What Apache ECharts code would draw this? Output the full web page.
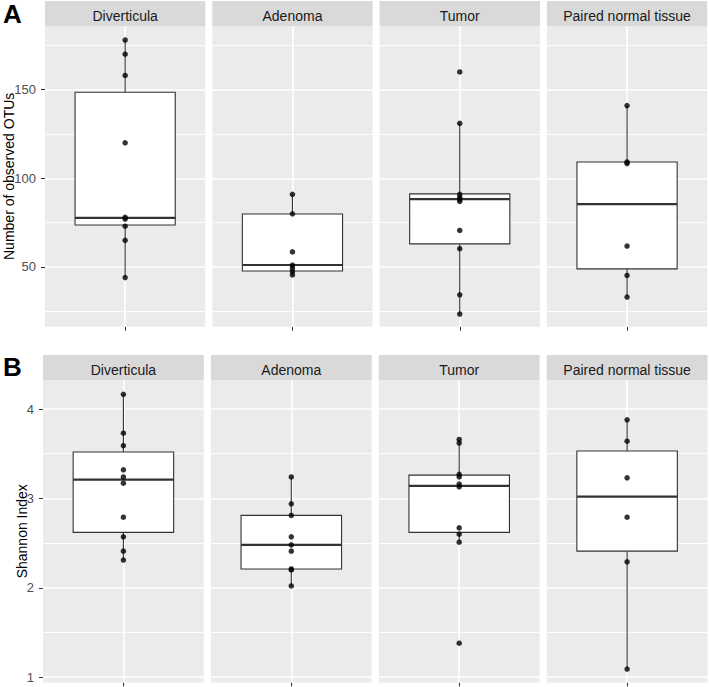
<!DOCTYPE html>
<html>
<head>
<meta charset="utf-8">
<script src="https://cdn.jsdelivr.net/npm/echarts@6/dist/echarts.min.js"></script>
<style>
  html, body { margin: 0; padding: 0; background: #fff; }
  #chart { width: 709px; height: 687px; }
</style>
</head>
<body>
<div id="chart"></div>
<script>
const FONT = '"Liberation Sans", Arial, sans-serif'

const categories = ['Diverticula', 'Adenoma', 'Tumor', 'Paired normal tissue']

// panel A: number of observed OTUs
const otuPoints = [
  [178, 170, 158, 120, 78, 77, 73, 65, 44],
  [91, 80, 58.5, 51, 49.3, 47.3, 45.5],
  [160, 131, 91, 89.3, 88, 87, 70.6, 60.3, 34.3, 23.4],
  [141, 109.2, 108.3, 61.8, 45.2, 33]
]
// lower whisker, Q1, median, Q3, upper whisker
const otuBoxes = [
  [44, 73.7, 77.7, 148.5, 178],
  [45.5, 47.7, 51.1, 79.9, 91],
  [23.4, 63, 88.2, 91.2, 131],
  [33, 48.9, 85.4, 109.2, 141]
]
const otuRange = [16.3, 185.9]
const otuMajor = [50, 100, 150]
const otuMinor = [25, 75, 125, 175]

// panel B: Shannon index
const shannonPoints = [
  [4.165, 3.73, 3.59, 3.32, 3.24, 3.17, 2.79, 2.57, 2.41, 2.31],
  [3.24, 2.94, 2.81, 2.57, 2.48, 2.41, 2.21, 2.2, 2.02],
  [3.66, 3.62, 3.27, 3.24, 3.16, 3.13, 2.67, 2.6, 2.51, 1.38],
  [3.88, 3.64, 3.23, 2.79, 2.29, 1.09]
]
const shannonBoxes = [
  [2.31, 2.62, 3.21, 3.52, 4.165],
  [2.02, 2.21, 2.48, 2.81, 3.24],
  [2.51, 2.62, 3.14, 3.26, 3.66],
  [1.09, 2.41, 3.02, 3.53, 3.88]
]
const shannonRange = [0.94, 4.325]
const shannonMajor = [1, 2, 3, 4]
const shannonMinor = [1.5, 2.5, 3.5]

const rows = [
  { letter: 'A', letterY: 13.5, title: 'Number of observed OTUs', points: otuPoints, boxes: otuBoxes,
    range: otuRange, major: otuMajor, minor: otuMinor,
    stripTop: 1, top: 26, height: 300.7, left0: 45, step: 167.3, width: 160.3, nameGap: 29 },
  { letter: 'B', letterY: 367, title: 'Shannon Index', points: shannonPoints, boxes: shannonBoxes,
    range: shannonRange, major: shannonMajor, minor: shannonMinor,
    stripTop: 355, top: 380, height: 302.5, left0: 43, step: 167.9, width: 160.8, nameGap: 14 }
]

function renderBox(params, api) {
  const x = api.value(0)
  const lo = api.coord([x, api.value(1)])
  const q1 = api.coord([x, api.value(2)])
  const med = api.coord([x, api.value(3)])
  const q3 = api.coord([x, api.value(4)])
  const hi = api.coord([x, api.value(5)])
  const half = api.size([1, 0])[0] * 0.625 / 2
  const cx = q1[0]
  const stroke = { stroke: '#333', lineWidth: 1.1, fill: null }
  return {
    type: 'group',
    children: [
      { type: 'line', shape: { x1: cx, y1: q3[1], x2: cx, y2: hi[1] }, style: stroke },
      { type: 'line', shape: { x1: cx, y1: q1[1], x2: cx, y2: lo[1] }, style: stroke },
      { type: 'rect', shape: { x: cx - half, y: q3[1], width: half * 2, height: q1[1] - q3[1] },
        style: { fill: '#fff', stroke: '#333', lineWidth: 1.1 } },
      { type: 'line', shape: { x1: cx - half, y1: med[1], x2: cx + half, y2: med[1] },
        style: { stroke: '#333', lineWidth: 2.2 } }
    ]
  }
}

const grids = [], xAxes = [], yAxes = [], series = [], graphics = []

rows.forEach(row => {
  graphics.push({
    type: 'text', x: 3, y: row.letterY,
    style: { text: row.letter, font: 'bold 26px ' + FONT, fill: '#000',
      align: 'left', verticalAlign: 'middle', textAlign: 'left', textVerticalAlign: 'middle' }
  })
  categories.forEach((cat, i) => {
    const k = grids.length
    const left = row.left0 + i * row.step
    grids.push({
      left: left, top: row.top, width: row.width, height: row.height,
      show: true, backgroundColor: '#ebebeb', borderWidth: 0
    })
    graphics.push({
      type: 'rect',
      shape: { x: left, y: row.stripTop, width: row.width, height: row.top - row.stripTop },
      style: { fill: '#d9d9d9' }
    })
    graphics.push({
      type: 'text', x: left + row.width / 2, y: (row.stripTop + row.top) / 2 + 2,
      style: { text: cat, font: '14px ' + FONT, fill: '#1a1a1a',
        align: 'center', verticalAlign: 'middle', textAlign: 'center', textVerticalAlign: 'middle' }
    })
    xAxes.push({
      gridIndex: k, type: 'category', data: [''], boundaryGap: true,
      axisLine: { show: false },
      axisTick: { show: true, alignWithLabel: true, length: 4, lineStyle: { color: '#333', width: 1 } },
      axisLabel: { show: false },
      splitLine: { show: false }
    })
    yAxes.push({
      gridIndex: k, type: 'value', min: row.range[0], max: row.range[1],
      axisLine: { show: false },
      splitLine: { show: false },
      axisTick: { show: i === 0, length: 4, customValues: row.major, lineStyle: { color: '#333', width: 1 } },
      axisLabel: { show: i === 0, customValues: row.major, color: '#4d4d4d', fontSize: 13, fontFamily: FONT, margin: 9 },
      name: i === 0 ? row.title : '',
      nameLocation: 'middle', nameRotate: 90, nameGap: row.nameGap, nameMoveOverlap: false,
      nameTextStyle: { fontSize: 14, color: '#000', fontFamily: FONT }
    })
    const lines = []
    row.minor.forEach(v => lines.push({ yAxis: v, lineStyle: { color: '#fff', width: 0.9, type: 'solid' } }))
    row.major.forEach(v => lines.push({ yAxis: v, lineStyle: { color: '#fff', width: 1.6, type: 'solid' } }))
    lines.push({ xAxis: 0, lineStyle: { color: '#fff', width: 1.6, type: 'solid' } })
    series.push({
      type: 'line', xAxisIndex: k, yAxisIndex: k, data: [], z: 1, silent: true,
      markLine: { z: 1, silent: true, symbol: ['none', 'none'], label: { show: false }, data: lines }
    })
    series.push({
      type: 'custom', xAxisIndex: k, yAxisIndex: k, z: 10, silent: true,
      renderItem: renderBox,
      encode: { x: 0, y: [1, 2, 3, 4, 5] },
      data: [[0].concat(row.boxes[i])]
    })
    series.push({
      type: 'scatter', xAxisIndex: k, yAxisIndex: k, z: 11, silent: true,
      symbolSize: 5.5, itemStyle: { color: '#000' },
      data: row.points[i].map(v => [0, v])
    })
  })
})

const chart = echarts.init(document.getElementById('chart'), null, { renderer: 'svg' })
chart.setOption({
  animation: false,
  backgroundColor: '#fff',
  textStyle: { fontFamily: FONT },
  grid: grids,
  xAxis: xAxes,
  yAxis: yAxes,
  series: series,
  graphic: { elements: graphics }
})
</script>
</body>
</html>
